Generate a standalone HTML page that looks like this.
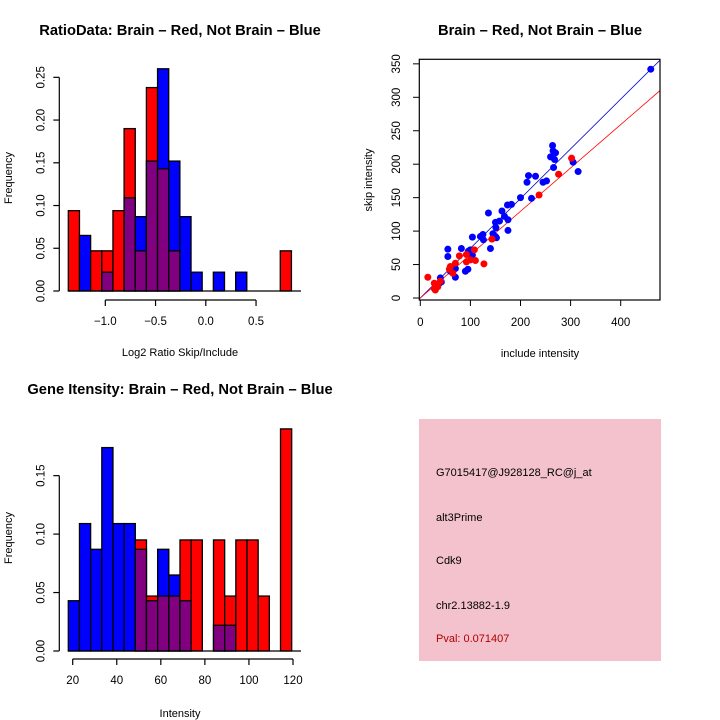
<!DOCTYPE html>
<html><head><meta charset="utf-8"><style>
body{margin:0;background:#fff}
svg{display:block;font-family:"Liberation Sans",sans-serif}
.t{font-weight:bold;font-size:14.7px}
.tk{font-size:11.5px}
.lb{font-size:11px}
</style></head><body>
<svg id="s" width="720" height="720" viewBox="0 0 720 720">
<text class="t" x="180" y="35" text-anchor="middle">RatioData: Brain – Red, Not Brain – Blue</text>
<text class="t" x="540" y="35" text-anchor="middle">Brain – Red, Not Brain – Blue</text>
<text class="t" x="180" y="394" text-anchor="middle">Gene Itensity: Brain – Red, Not Brain – Blue</text>
<text class="lb" x="180" y="356" text-anchor="middle">Log2 Ratio Skip/Include</text>
<text class="lb" x="12" y="178" text-anchor="middle" transform="rotate(-90 12 178)">Frequency</text>
<text class="lb" x="180" y="717" text-anchor="middle">Intensity</text>
<text class="lb" x="12" y="538" text-anchor="middle" transform="rotate(-90 12 538)">Frequency</text>
<text class="lb" x="540" y="357" text-anchor="middle">include intensity</text>
<text class="lb" x="372" y="180" text-anchor="middle" transform="rotate(-90 372 180)">skip intensity</text>
<g>
<rect x="419" y="419" width="242" height="242" fill="#f4c2cc"/>
<text class="lb" x="436" y="476">G7015417@J928128_RC@j_at</text>
<text class="lb" x="436" y="521">alt3Prime</text>
<text class="lb" x="436" y="564">Cdk9</text>
<text class="lb" x="436" y="609">chr2.13882-1.9</text>
<text class="lb" x="436" y="642" fill="#b00000">Pval: 0.071407</text>
</g>
<g id="g1"></g><g id="g2"></g><g id="g3"></g>
</svg>
<script>
// Ratio histogram
const ratioRed=[0.094,0,0.047,0.047,0.094,0.19,0.047,0.238,0.143,0.047,0,0,0,0,0,0,0,0,0,0.047];
const ratioBlue=[0,0.065,0,0.022,0,0.109,0.087,0.152,0.26,0.152,0.087,0.022,0,0.022,0,0.022,0,0,0,0];
const ratioStart=-1.368, ratioBinW=0.111;
const ratioXTicks=[-1.0,-0.5,0.0,0.5];
const ratioYTicks=[0,0.05,0.10,0.15,0.20,0.25];
// Intensity histogram
const intRed=[0,0,0,0,0,0,0.095,0.047,0.047,0.047,0.095,0.095,0,0.095,0.047,0.095,0.095,0.047,0,0.19];
const intBlue=[0.043,0.109,0.087,0.174,0.109,0.109,0.087,0.043,0.087,0.065,0.043,0,0,0.022,0.022,0,0,0,0,0];
const intStart=18.0, intBinW=5.07;
const intXTicks=[20,40,60,80,100,120];
const intYTicks=[0,0.05,0.10,0.15];
// Scatter
const blueX=[460,264,265,270,260,268,266,305,315,216,230,213,245,252,200,222,182,174,136,163,168,175,150,158,151,175,145,152,125,120,126,104,82,140,55,55,100,96,104,90,95,70,70,65,40,38,42,60,150];
const blueY=[342,228,220,217,211,207,195,203,189,183,182,173,173,175,150,149,140,139,127,130,122,117,113,115,105,101,96,90,95,92,87,91,74,74,73,62,72,70,64,40,43,31,44,45,30,22,24,40,92];
const redX=[15,302,276,237,143,108,78,92,110,100,92,127,70,60,58,65,28,30,35,28,40];
const redY=[31,209,185,154,88,72,63,65,56,57,54,51,52,47,43,37,22,12,17,14,25];
const blueSlope=0.743, redSlope=0.648;
const scXTicks=[0,100,200,300,400];
const scYTicks=[0,50,100,150,200,250,300,350];

const NS="http://www.w3.org/2000/svg";
function mk(p,tag,a){const e=document.createElementNS(NS,tag);for(const k in a)e.setAttribute(k,a[k]);p.appendChild(e);return e;}
function fmt(v,d){return (v<0?"\u2212":"")+Math.abs(v).toFixed(d);}

function hist(g,red,blue,start,bw,sx,sy,base){
  for(let i=0;i<red.length;i++){
    const x0=sx(start+i*bw), x1=sx(start+(i+1)*bw);
    const r=red[i], b=blue[i], hi=Math.max(r,b), lo=Math.min(r,b);
    if(hi>0){
      const e=mk(g,'rect',{x:x0,y:sy(hi),width:x1-x0,height:base-sy(hi),fill:r>=b?'#ff0000':'#0000ff',stroke:'#000','stroke-width':1.3});
      
      
    }
    if(lo>0){
      const e=mk(g,'rect',{x:x0,y:sy(lo),width:x1-x0,height:base-sy(lo),fill:'#800080',stroke:'#000','stroke-width':1.3});
      
      
    }
  }
}
function yaxis(g,ticks,sy,x,dec){
  mk(g,'line',{x1:x,x2:x,y1:sy(ticks[0]),y2:sy(ticks[ticks.length-1]),stroke:'#000','stroke-width':1.2});
  ticks.forEach(t=>{mk(g,'line',{x1:x-6,x2:x,y1:sy(t),y2:sy(t),stroke:'#000','stroke-width':1.2});
    const lx=x-15;
    const tx=mk(g,'text',{x:lx,y:sy(t),'text-anchor':'middle',class:'tk',transform:`rotate(-90 ${lx} ${sy(t)})`});
    
    
    tx.textContent=dec!=null?t.toFixed(dec):t;});
}
function xaxis(g,ticks,sx,y,dec){
  mk(g,'line',{x1:sx(ticks[0]),x2:sx(ticks[ticks.length-1]),y1:y,y2:y,stroke:'#000','stroke-width':1.2});
  ticks.forEach(t=>{mk(g,'line',{x1:sx(t),x2:sx(t),y1:y,y2:y+6,stroke:'#000','stroke-width':1.2});
    const tx=mk(g,'text',{x:sx(t),y:y+25,'text-anchor':'middle',class:'tk'});
    
    
    tx.textContent=dec!=null?fmt(t,dec):t;});
}
// Panel 1
{const g=document.getElementById('g1');
 
 
 const sx=v=>105.3+(v+1)*100.5, sy=v=>291-v*854.7;
 hist(g,ratioRed,ratioBlue,ratioStart,ratioBinW,sx,sy,291);
 mk(g,'line',{x1:sx(ratioStart),x2:301,y1:291,y2:291,stroke:'#000','stroke-width':1.3});
 yaxis(g,ratioYTicks,sy,59.3,2); xaxis(g,ratioXTicks,sx,300,1);}
// Panel 3
{const g=document.getElementById('g3');
 
 
 const sx=v=>72.7+(v-20)*2.203, sy=v=>651-v*1169;
 hist(g,intRed,intBlue,intStart,intBinW,sx,sy,651);
 mk(g,'line',{x1:sx(intStart),x2:301,y1:651,y2:651,stroke:'#000','stroke-width':1.3});
 yaxis(g,intYTicks,sy,59.3,2); xaxis(g,intXTicks,sx,659,null);}
// Panel 2
{const g=document.getElementById('g2');
 
 
 const sx=v=>420.3+v*0.501, sy=v=>298-v*0.669;
 const cp=mk(mk(g,'defs',{}),'clipPath',{id:'cp'});mk(cp,'rect',{x:419.3,y:59.3,width:240.7,height:240.7});
 const inner=mk(g,'g',{'clip-path':'url(#cp)'});
 let e=mk(inner,'line',{x1:sx(-10),y1:sy(-10*blueSlope),x2:sx(500),y2:sy(500*blueSlope),stroke:'#0000cc','stroke-width':0.8});
 
 e=mk(inner,'line',{x1:sx(-10),y1:sy(-10*redSlope),x2:sx(500),y2:sy(500*redSlope),stroke:'#ff0000','stroke-width':0.8});
 
 blueX.forEach((x,i)=>{const c=mk(inner,'circle',{cx:sx(x),cy:sy(blueY[i]),r:3.5,fill:'#0000ff'});
   
   });
 redX.forEach((x,i)=>{const c=mk(inner,'circle',{cx:sx(x),cy:sy(redY[i]),r:3.5,fill:'#ff0000'});
   
   });
 mk(g,'rect',{x:419.3,y:59.3,width:240.7,height:240.7,fill:'none',stroke:'#000','stroke-width':1.2});
 scXTicks.forEach(t=>{mk(g,'line',{x1:sx(t),x2:sx(t),y1:300,y2:306,stroke:'#000'});
   const tx=mk(g,'text',{x:sx(t),y:326,'text-anchor':'middle',class:'tk'});
   
   
   tx.textContent=t;});
 scYTicks.forEach(t=>{mk(g,'line',{x1:413,x2:419.3,y1:sy(t),y2:sy(t),stroke:'#000'});
   const tx=mk(g,'text',{x:400,y:sy(t),'text-anchor':'middle',class:'tk',transform:`rotate(-90 400 ${sy(t)})`});
   
   
   tx.textContent=t;});}
</script>
</body></html>
